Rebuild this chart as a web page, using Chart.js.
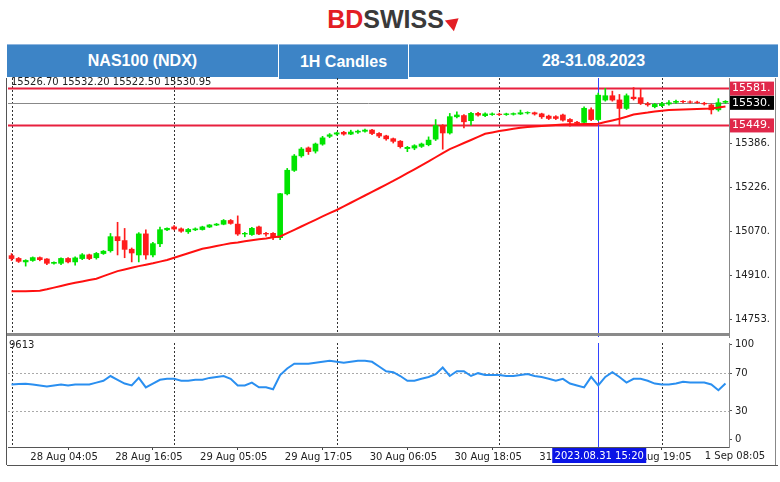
<!DOCTYPE html>
<html><head><meta charset="utf-8">
<script src="https://cdn.jsdelivr.net/npm/chart.js@4.4.0/dist/chart.umd.min.js"></script>
<style>
body{margin:0;width:780px;height:482px;background:#fff;position:relative;overflow:hidden;font-family:"Liberation Sans",Arial,sans-serif}
#logo{position:absolute;top:5px;left:4px;width:780px;text-align:center;font:bold 25px "Liberation Sans",Arial;letter-spacing:0}
#logo .bd{color:#e31e24}#logo .sw{color:#3a3a3a}
#logo .ar{display:inline-block;width:0;height:0;border-left:7px solid transparent;border-right:7px solid transparent;border-bottom:12px solid #e31e24;transform:rotate(50deg);margin-left:3px}
.cell{position:absolute;top:44px;height:33px;background:#3d84c6;color:#fff;font:bold 16px "Liberation Sans",Arial;display:flex;align-items:center;justify-content:center;border-top:1px solid #8fb6df;box-sizing:border-box}
#ohlc{position:absolute;left:11px;top:76px;font:10px "DejaVu Sans";color:#222}
#c1{position:absolute;left:0;top:69px}
#c2{position:absolute;left:0;top:334px}
#sep{position:absolute;left:7px;top:333px;width:722px;height:3px;background:#8a8a8a}
#lb{position:absolute;left:6px;top:78px;width:1px;height:387px;background:#555}
#bb{position:absolute;left:7px;top:465px;width:771px;height:1px;background:#555}
#rb{position:absolute;left:775px;top:78px;width:1px;height:387px;background:#888}
#rsi{position:absolute;left:9px;top:339px;font:10px "DejaVu Sans";color:#222}
</style></head><body>
<div id="logo"><span class="bd">BD</span><span class="sw">SWISS</span><span class="ar"></span></div>
<div class="cell" style="left:7px;width:271px">NAS100 (NDX)</div>
<div class="cell" style="left:279px;width:129px;height:35px">1H Candles</div>
<div class="cell" style="left:409px;width:369px">28-31.08.2023</div>
<canvas id="c1" width="780" height="277"></canvas>
<canvas id="c2" width="780" height="131"></canvas>
<div id="ohlc">15526.70 15532.20 15522.50 15530.95</div>
<div id="sep"></div><div id="lb"></div><div id="bb"></div><div id="rb"></div>
<div id="rsi">9613</div>
<script>
const openP=[14982,14972,14960,14965,14975,14970,14955,14955,14972,14960,14972,14985,14975,14990,15000,15050,15036,15005,14985,15060,14985,15025,15075,15085,15078,15068,15075,15076,15085,15092,15095,15108,15095,15060,15058,15085,15062,15062,15047,15204,15288,15340,15368,15357,15382,15410,15418,15424,15418,15425,15428,15432,15420,15411,15401,15392,15366,15368,15374,15380,15400,15448,15422,15480,15484,15466,15492,15484,15488,15489,15488,15489,15490,15494,15494,15490,15482,15480,15486,15470,15460,15460,15505,15470,15540,15555,15540,15510,15550,15548,15526,15516,15520,15526,15532,15535,15533,15532,15528,15522,15505,15532];
const highP=[14990,14976,14968,14978,14978,14972,14960,14975,14976,14978,14990,14988,14994,15001,15062,15102,15080,15010,15065,15075,15030,15085,15082,15090,15082,15080,15082,15088,15094,15098,15112,15112,15125,15066,15084,15088,15066,15065,15206,15295,15345,15370,15372,15386,15410,15420,15425,15428,15432,15432,15436,15435,15423,15414,15404,15395,15374,15380,15386,15408,15470,15452,15492,15498,15488,15496,15496,15494,15494,15493,15493,15494,15504,15498,15497,15493,15486,15484,15490,15474,15464,15516,15512,15565,15582,15572,15560,15562,15585,15582,15532,15528,15532,15538,15540,15538,15537,15536,15532,15526,15545,15538];
const lowP=[14965,14958,14945,14962,14964,14950,14952,14950,14956,14948,14968,14968,14970,14987,14995,14985,14975,14960,14960,14970,14978,15015,15072,15075,15066,15062,15072,15074,15083,15090,15093,15095,15055,15050,15055,15058,15052,15040,15040,15200,15284,15335,15345,15350,15378,15405,15414,15414,15416,15420,15425,15416,15405,15396,15386,15368,15355,15362,15370,15376,15395,15364,15418,15476,15440,15450,15482,15480,15485,15484,15485,15486,15488,15490,15486,15474,15470,15470,15464,15446,15452,15456,15466,15466,15536,15536,15450,15506,15540,15524,15518,15512,15516,15522,15528,15530,15529,15528,15522,15490,15500,15528];
const closeP=[14972,14962,14965,14975,14968,14955,14958,14972,14960,14974,14985,14972,14990,14998,15050,15036,15005,14992,15060,14985,15025,15075,15080,15078,15070,15076,15078,15085,15092,15095,15108,15098,15060,15062,15080,15060,15060,15050,15204,15288,15339,15364,15355,15382,15404,15415,15422,15418,15425,15428,15432,15420,15411,15401,15392,15373,15370,15376,15382,15396,15448,15422,15480,15486,15462,15492,15486,15490,15490,15488,15490,15491,15494,15495,15490,15480,15474,15474,15468,15462,15457,15510,15470,15557,15555,15540,15510,15555,15545,15528,15523,15524,15526,15530,15535,15534,15532,15531,15526,15505,15530,15535];
const maP=[14855,14855,14855,14856,14857,14862,14868,14874,14880,14885,14890,14895,14900,14909,14918,14927,14933,14939,14945,14950,14955,14961,14967,14975,14983,14991,14999,15007,15012,15017,15022,15027,15030,15034,15038,15041,15044,15048,15051,15063,15075,15087,15099,15111,15123,15135,15146,15159,15172,15185,15198,15211,15224,15237,15250,15264,15278,15292,15306,15320,15335,15350,15364,15375,15386,15397,15408,15419,15424,15429,15433,15437,15441,15443,15445,15447,15449,15451,15452,15453,15453,15454,15454,15455,15461,15467,15473,15480,15488,15492,15495,15499,15502,15504,15505,15506,15507,15508,15509,15510,15513,15517];
const rsiV=[58,58.5,58.7,58,57,56,57,58,57,58,58,58,60,62,67,63,59,57,65,55,59,63,64,64,62,62,63,63,65,66,67,64,57,57,60,55,55,53,68,75,80,80,80,81,82,83,82,81,82,83,83,82,77,72,71,67,62,62,64,66,69,76,67,72,72,67,70,68,68,68,67,67,68,69,67,66,64,62,64,59,57,55,66,57,66,71,66,60,64,64,62,59,58,58,59,61,60,60,60,58,52,59];
const priceTicks=[14753,14910,15070,15226,15386];
const rsiTicks=[0,30,70,100];
const levelLines=[15581,15449];
const lastPrice=15530;
const timeLabelIdx=[8,20,32,44,56,68,80,92];
const timeLabelTxt=['28 Aug 04:05','28 Aug 16:05','29 Aug 05:05','29 Aug 17:05','30 Aug 06:05','30 Aug 18:05','31 Aug 07:05','31 Aug 19:05'];
const lastTimeLabel='1 Sep 08:05';
const cursorIdx=83, cursorTxt='2023.08.31 15:20';
const gridIdx=[0,23,46,69,92];

const cats=closeP.map((_,i)=>i);
const GREEN='#00e400',RED='#ff1c1c';
const col=closeP.map((c,i)=>c>=openP[i]?GREEN:RED);
const FONT={family:'DejaVu Sans',size:10};

function vgrid(chart){
  const {ctx,chartArea:a,scales:{x}}=chart;
  ctx.save();ctx.strokeStyle='#333';ctx.lineWidth=1;ctx.setLineDash([2,2]);
  gridIdx.forEach(i=>{const px=Math.round(x.getPixelForValue(i))+0.5;ctx.beginPath();ctx.moveTo(px,a.top);ctx.lineTo(px,a.bottom);ctx.stroke();});
  ctx.restore();
}
function cursor(chart){
  const {ctx,chartArea:a,scales:{x}}=chart;
  const px=Math.round(x.getPixelForValue(cursorIdx))+0.5;
  ctx.save();ctx.strokeStyle='#3344ff';ctx.lineWidth=1;ctx.beginPath();ctx.moveTo(px,a.top);ctx.lineTo(px,a.bottom);ctx.stroke();ctx.restore();
}
function box(ctx,txt,x,y,bg){
  ctx.font='11px "DejaVu Sans"';
  ctx.fillStyle=bg;ctx.fillRect(x,y-7,44,14);
  ctx.fillStyle='#fff';ctx.textBaseline='middle';ctx.textAlign='left';ctx.fillText(txt,x+2,y);
}

new Chart(document.getElementById('c1'),{
  type:'bar',
  data:{labels:cats,datasets:[
    {type:'line',data:maP,borderColor:'#ff1010',borderWidth:2,pointRadius:0,order:0,tension:0},
    {data:closeP.map((c,i)=>[Math.min(c,openP[i]),Math.max(c,openP[i])+0.5]),backgroundColor:col,barThickness:5,grouped:false,order:1},
    {data:closeP.map((c,i)=>[lowP[i],highP[i]]),backgroundColor:col,barThickness:1,grouped:false,order:2}
  ]},
  options:{responsive:false,animation:false,events:[],
    layout:{padding:{left:8,top:0,bottom:0,right:0}},
    plugins:{legend:{display:false},tooltip:{enabled:false}},
    scales:{
      x:{display:false,offset:true},
      y:{position:'right',min:14691,max:15619,
        afterBuildTicks:s=>{s.ticks=priceTicks.map(v=>({value:v}));},
        afterFit:s=>{s.width=51;},
        ticks:{font:FONT,color:'#222',padding:3,callback:v=>v+'.'},
        grid:{drawOnChartArea:false,tickLength:3,color:'#555'},
        border:{color:'#888'}}
    }},
  plugins:[{id:'p1',
    beforeDatasetsDraw(chart){
      vgrid(chart);
      const {ctx,chartArea:a,scales:{y}}=chart;
      ctx.save();
      ctx.strokeStyle='#888';ctx.lineWidth=1;
      let py=Math.round(y.getPixelForValue(lastPrice))+0.5;
      ctx.beginPath();ctx.moveTo(a.left,py);ctx.lineTo(a.right,py);ctx.stroke();
      ctx.strokeStyle='#e8203f';ctx.lineWidth=2;
      levelLines.forEach(v=>{const p=y.getPixelForValue(v);ctx.beginPath();ctx.moveTo(a.left,p);ctx.lineTo(a.right,p);ctx.stroke();});
      ctx.restore();
      cursor(chart);
    },
    afterDraw(chart){
      const {ctx,chartArea:a,scales:{y}}=chart;
      levelLines.forEach(v=>box(ctx,v+'.',a.right+1,y.getPixelForValue(v),'#e0284a'));
      box(ctx,lastPrice+'.',a.right+1,y.getPixelForValue(lastPrice),'#000');
    }}]
});

new Chart(document.getElementById('c2'),{
  type:'line',
  data:{labels:cats,datasets:[{data:rsiV,borderColor:'#2a8ff0',borderWidth:2,pointRadius:0,tension:0}]},
  options:{responsive:false,animation:false,events:[],
    layout:{padding:{left:8,top:4,bottom:0,right:0}},
    plugins:{legend:{display:false},tooltip:{enabled:false}},
    scales:{
      x:{type:'category',offset:true,
        afterFit:s=>{s.height=18;},
        grid:{drawOnChartArea:false,tickLength:3,color:ctx=>timeLabelIdx.includes(ctx.index)?'#444':'rgba(0,0,0,0)'},
        border:{color:'#555'},
        ticks:{autoSkip:false,maxRotation:0,font:FONT,color:'#222',padding:1,labelOffset:-4,
          callback:(v,i)=>{const k=timeLabelIdx.indexOf(i);return k>=0?timeLabelTxt[k]:'';}}},
      y:{position:'right',min:-8.1,max:101.9,
        afterBuildTicks:s=>{s.ticks=rsiTicks.map(v=>({value:v}));},
        afterFit:s=>{s.width=51;},
        ticks:{font:FONT,color:'#222',padding:3},
        grid:{drawOnChartArea:false,tickLength:3,color:'#555'},
        border:{color:'#888'}}
    }},
  plugins:[{id:'p2',
    beforeDatasetsDraw(chart){
      vgrid(chart);
      const {ctx,chartArea:a,scales:{y}}=chart;
      ctx.save();ctx.strokeStyle='#aaa';ctx.setLineDash([2,2]);
      [30,70].forEach(v=>{const p=Math.round(y.getPixelForValue(v))+0.5;ctx.beginPath();ctx.moveTo(a.left,p);ctx.lineTo(a.right,p);ctx.stroke();});
      ctx.restore();
      cursor(chart);
    },
    afterDraw(chart){
      const {ctx,chartArea:a,scales:{x}}=chart;
      ctx.save();ctx.font='10px "DejaVu Sans"';ctx.textBaseline='middle';ctx.textAlign='center';
      ctx.fillStyle='#222';ctx.fillText(lastTimeLabel,735,a.bottom+9);
      const px=x.getPixelForValue(cursorIdx);
      ctx.fillStyle='#0a14e6';ctx.fillRect(px-46,a.bottom+1,94,15);
      ctx.fillStyle='#fff';ctx.fillText(cursorTxt,px+1,a.bottom+9);
      ctx.restore();
    }}]
});
</script></body></html>
